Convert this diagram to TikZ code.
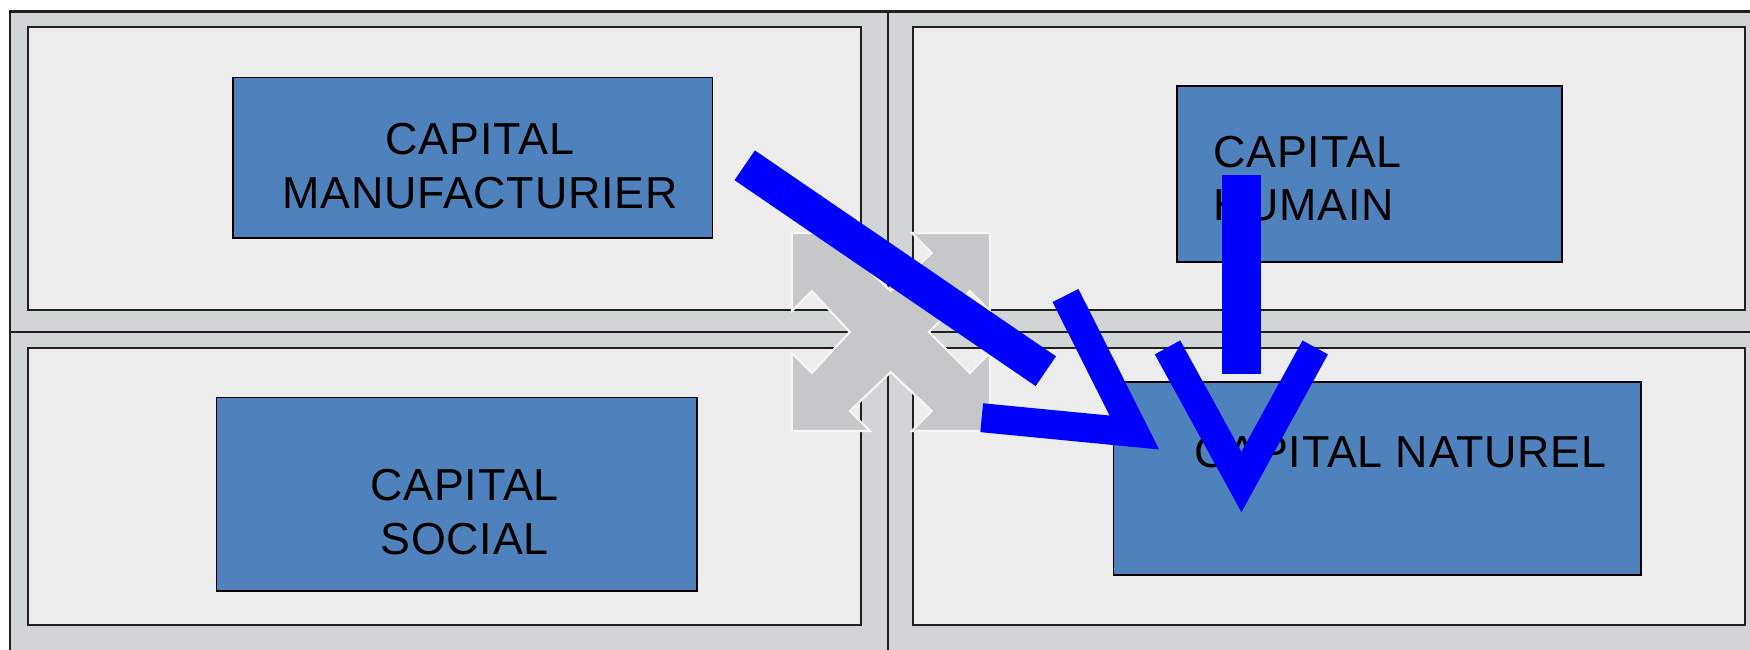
\documentclass[tikz,border=0pt]{standalone}
\usepackage{xcolor}
\usepackage{fontspec}
\setmainfont{Liberation Sans}[LetterSpace=1.8]
\usepackage{tikz}
\usetikzlibrary{arrows.meta}
\usetikzlibrary{shapes.geometric, calc}

\definecolor{cadre}{HTML}{D2D5D6}
\definecolor{fondpan}{HTML}{EDEDED}
\definecolor{bleucap}{HTML}{4F81BD}
\definecolor{grisicone}{HTML}{C6C7C9}
\definecolor{trait}{HTML}{231F20}

\begin{document}
\begin{tikzpicture}[x=0.02cm, y=-0.02cm,
  pan/.style={draw=trait, line width=1.4pt, fill=fondpan},
  capbox/.style={rectangle, draw=black, line width=1pt, fill=bleucap, inner sep=0pt},
  etiq/.style={inner sep=0pt, text=black, font=\fontsize{25.5}{30.4}\selectfont},
  fleche/.style={draw=blue, line cap=butt, line join=miter}]
  \useasboundingbox (0,0) rectangle (1750,649);
  \clip (0,0) rectangle (1750,649);
  \fill[white] (0,0) rectangle (1750,649);

  \draw[fill=cadre, draw=trait, line width=1.4pt] (10,11.6) rectangle (1780,680);
  \draw[trait, line width=1.4pt] (888,11.6) -- (888,680);
  \draw[trait, line width=1.4pt] (10,332) -- (1780,332);

  \foreach \xa/\xb in {28/861, 913/1745}
    \foreach \ya/\yb in {27/310, 348/625}
      \draw[pan] (\xa,\ya) rectangle (\xb,\yb);

  \node[capbox, minimum width=9.6cm, minimum height=3.21cm] (manu) at (472.6,157.7) {};
  \node[capbox, minimum width=7.71cm, minimum height=3.51cm] (humain) at (1369.5,174) {};
  \node[capbox, minimum width=9.61cm, minimum height=3.87cm] (social) at (456.8,494.2) {};
  \node[capbox, minimum width=10.55cm, minimum height=3.85cm] (naturel) at (1377.2,478.4) {};

  \node[etiq, align=center] (tmanu) at (480,166) {CAPITAL\\MANUFACTURIER};
  \node[etiq, align=left, anchor=west] (thumain) at (1213,178.6) {CAPITAL\\HUMAIN};
  \node[etiq, align=center] (tsocial) at (464.5,512) {CAPITAL\\SOCIAL};
  \node[etiq, anchor=west] (tnaturel) at (1194,452.2) {CAPITAL NATUREL};

  \draw[fill=grisicone, draw=white!93!gray, line width=1.2pt, shift={(890.8,332)}]
    (-99,-99) -- (-21,-99) -- (-41,-79) -- (0,-41) -- (41,-79) -- (21,-99) -- (99,-99)
    -- (99,-21) -- (79,-41) -- (38,0) -- (79,41) -- (99,21) -- (99,99)
    -- (21,99) -- (41,79) -- (0,40) -- (-41,79) -- (-21,99) -- (-99,99)
    -- (-99,21) -- (-79,41) -- (-41,0) -- (-79,-41) -- (-99,-21) -- cycle;

  \coordinate (b1) at (744.7,165.3);
  \coordinate (b2) at (1045.8,371.2);
  \coordinate (p1) at (1065.5,295.5);
  \coordinate (p2) at (1134.3,432.5);
  \coordinate (p3) at (981.7,417.7);
  \coordinate (h1) at (1241.6,174.6);
  \coordinate (h2) at (1241.6,374.4);
  \coordinate (q1) at (1167.5,347.4);
  \coordinate (q2) at (1241.4,482);
  \coordinate (q3) at (1315.2,347.4);

  \draw[fleche, line width=20.5pt] (b1) -- (b2);
  \draw[fleche, line width=16.5pt] (p1) -- (p2) -- (p3);
  \draw[fleche, line width=22pt] (h1) -- (h2);
  \draw[fleche, line width=16.5pt] (q1) -- (q2) -- (q3);
\end{tikzpicture}
\end{document}
